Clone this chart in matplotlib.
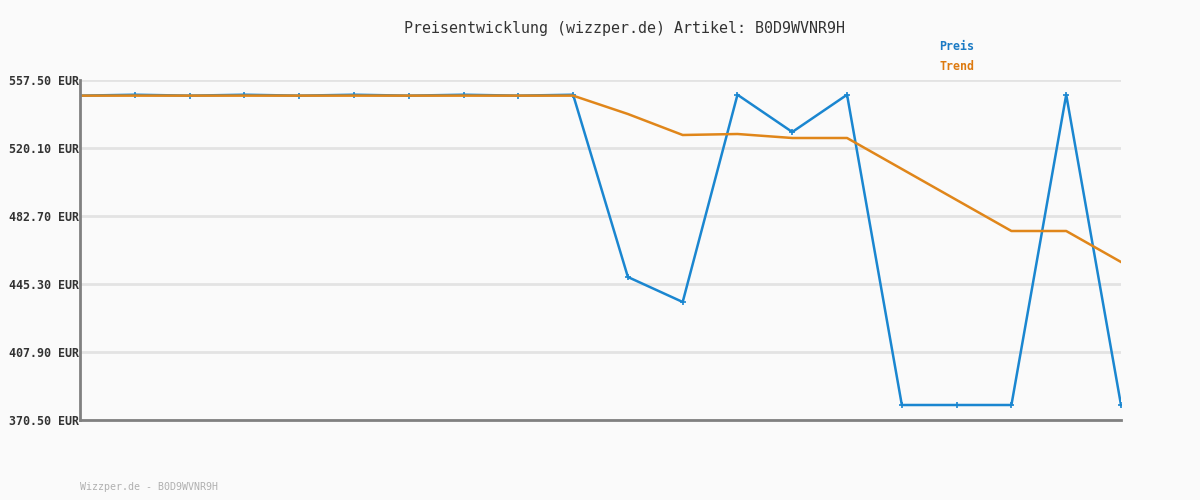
import matplotlib
matplotlib.use('Agg')
import matplotlib.pyplot as plt
import numpy as np

# price history
preis = [548.9, 549.4, 548.9, 549.4, 548.9, 549.4, 548.9, 549.4, 548.9, 549.4,
         449.15, 435.4, 549.4, 528.9, 549.4, 378.75, 378.75, 378.75, 549.4, 378.75]
trend = [548.9, 548.9, 548.9, 548.9, 548.9, 548.9, 548.9, 548.9, 548.9, 548.9,
         538.8, 527.25, 527.8, 525.6, 525.6, 508.55, 491.5, 474.45, 474.45, 457.4]
yticks = [370.50, 407.90, 445.30, 482.70, 520.10, 557.50]
artikel = 'B0D9WVNR9H'

blue = '#1a86d0'
orange = '#e0861a'
bg = '#fafafa'
mono = 'DejaVu Sans Mono'

fig = plt.figure(figsize=(12, 5), dpi=100, facecolor=bg)
ax = fig.add_axes([80/1200, 1 - 420/500, (1121 - 80)/1200, 340/500])
ax.set_facecolor(bg)

x = np.arange(len(preis))
ax.plot(x, preis, color=blue, lw=1.8, marker='+', ms=4, mew=1.2, zorder=3)
ax.plot(x, trend, color=orange, lw=1.8, zorder=4)

ax.set_xlim(0, len(preis) - 1)
ax.set_ylim(yticks[0], yticks[-1])
ax.set_yticks(yticks)
ax.set_yticklabels(['%.2f EUR' % v for v in yticks], family=mono,
                   fontweight='bold', fontsize=8.4, color='#333333')
ax.set_xticks([])
ax.tick_params(axis='y', length=0, pad=1)
ax.grid(axis='y', color='#e3e3e3', lw=2, zorder=0)
for s in ['top', 'right']:
    ax.spines[s].set_visible(False)
for s in ['left', 'bottom']:
    ax.spines[s].set_color('#808080')
    ax.spines[s].set_linewidth(2)
    ax.spines[s].set_zorder(5)

fig.text(624/1200, 1 - 28/500, 'Preisentwicklung (wizzper.de) Artikel: ' + artikel,
         ha='center', va='center', family=mono, fontsize=10.8, color='#333333')
fig.text(939/1200, 1 - 47/500, 'Preis', ha='left', va='center', family=mono,
         fontsize=8.4, fontweight='bold', color='#1a7ac4')
fig.text(939/1200, 1 - 67/500, 'Trend', ha='left', va='center', family=mono,
         fontsize=8.4, fontweight='bold', color='#dd7a10')
fig.text(80/1200, 1 - 487/500, 'Wizzper.de - ' + artikel, ha='left', va='center',
         family=mono, fontsize=7.2, color='#b0b0b0')

fig.savefig('out.png', dpi=100, facecolor=bg)
